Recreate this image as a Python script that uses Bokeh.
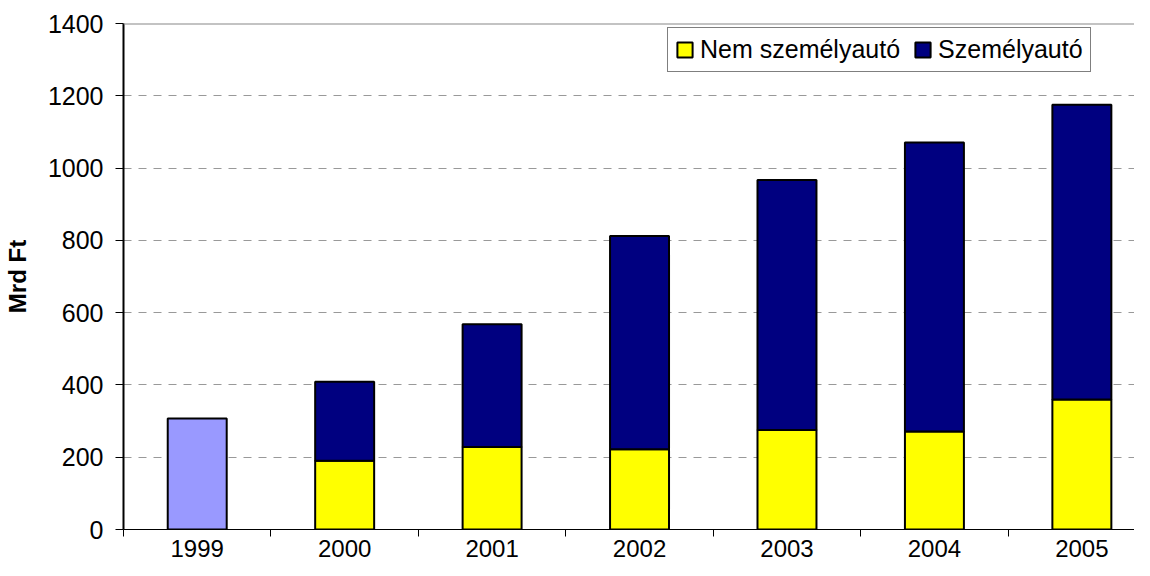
from bokeh.plotting import figure
from bokeh.models import (ColumnDataSource, Range1d, FixedTicker, Legend, LegendItem, Span)
from bokeh.embed import file_html
from bokeh.resources import INLINE

years = ["1999", "2000", "2001", "2002", "2003", "2004", "2005"]
osszes_1999 = 307
nem_szemelyauto = [190, 228, 222, 275, 271, 360]          # 2000-2005
osszes = [409, 568, 812, 967, 1071, 1175]                 # 2000-2005 totals
y_ticks = [0, 200, 400, 600, 800, 1000, 1200, 1400]

FONT = "Liberation Sans"
n = len(years)
xs = list(range(n))

src = ColumnDataSource(dict(
    x=xs[1:], nem=nem_szemelyauto, tot=osszes, zero=[0] * len(osszes),
))
src99 = ColumnDataSource(dict(x=[0], top=[osszes_1999], zero=[0]))

p = figure(width=1134, height=560, output_backend="svg", toolbar_location=None,
           x_range=Range1d(-0.5, 6.357), y_range=Range1d(0, 1400),
           min_border_left=116, min_border_right=0, min_border_top=23,
           min_border_bottom=31, background_fill_color="white",
           border_fill_color="white", outline_line_color=None)

bw = 0.40
p.vbar(x="x", bottom="zero", top="top", width=bw, source=src99,
       fill_color="#9999FF", line_color="black", line_width=2)
r_nem = p.vbar(x="x", bottom="zero", top="nem", width=bw, source=src,
               fill_color="#FFFF00", line_color="black", line_width=2)
r_sz = p.vbar(x="x", bottom="nem", top="tot", width=bw, source=src,
              fill_color="#000080", line_color="black", line_width=2)

p.add_layout(Span(location=1400, dimension="width", line_color="#888888", line_width=2))

# axes
p.xaxis.ticker = FixedTicker(ticks=xs, minor_ticks=[i - 0.5 for i in range(n + 1)])
p.xaxis.major_label_overrides = {i: y for i, y in enumerate(years)}
p.xaxis.major_tick_out = 0
p.xaxis.major_tick_in = 0
p.xaxis.minor_tick_out = 7
p.xaxis.minor_tick_in = 0
p.xaxis.minor_tick_line_color = "black"
p.xaxis.axis_line_color = "black"
p.xaxis.axis_line_width = 1
p.xaxis.major_label_standoff = 3
p.xaxis.major_label_text_font = FONT
p.xaxis.major_label_text_font_size = "24px"
p.xaxis.major_label_text_color = "black"

p.yaxis.ticker = FixedTicker(ticks=y_ticks)
p.yaxis.major_tick_out = 8
p.yaxis.major_tick_in = 0
p.yaxis.minor_tick_line_color = None
p.yaxis.axis_line_color = "black"
p.yaxis.axis_line_width = 2
p.yaxis.major_label_standoff = 12
p.yaxis.major_label_text_font = FONT
p.yaxis.major_label_text_font_size = "25px"
p.yaxis.major_label_text_color = "black"
p.yaxis.axis_label = "Mrd Ft"
p.yaxis.axis_label_text_font = FONT
p.yaxis.axis_label_text_font_size = "24px"
p.yaxis.axis_label_text_font_style = "bold"
p.yaxis.axis_label_text_color = "black"
p.yaxis.axis_label_standoff = 14

p.xgrid.grid_line_color = None
p.ygrid.ticker = FixedTicker(ticks=y_ticks[1:-1])
p.ygrid.grid_line_color = "#999999"
p.ygrid.grid_line_dash = "8 7"
p.ygrid.grid_line_width = 1

legend = Legend(items=[LegendItem(label="Nem személyautó", renderers=[r_nem]),
                       LegendItem(label="Személyautó", renderers=[r_sz])],
                orientation="horizontal", location=(544, 457),
                label_text_font=FONT, label_text_font_size="25px",
                label_text_color="black", glyph_width=19, glyph_height=19,
                label_standoff=6, spacing=13, padding=7, margin=0,
                border_line_color="black", border_line_width=1,
                background_fill_alpha=1.0, label_height=25)
p.add_layout(legend, "center")

open("out.html", "w").write(file_html(p, INLINE))
